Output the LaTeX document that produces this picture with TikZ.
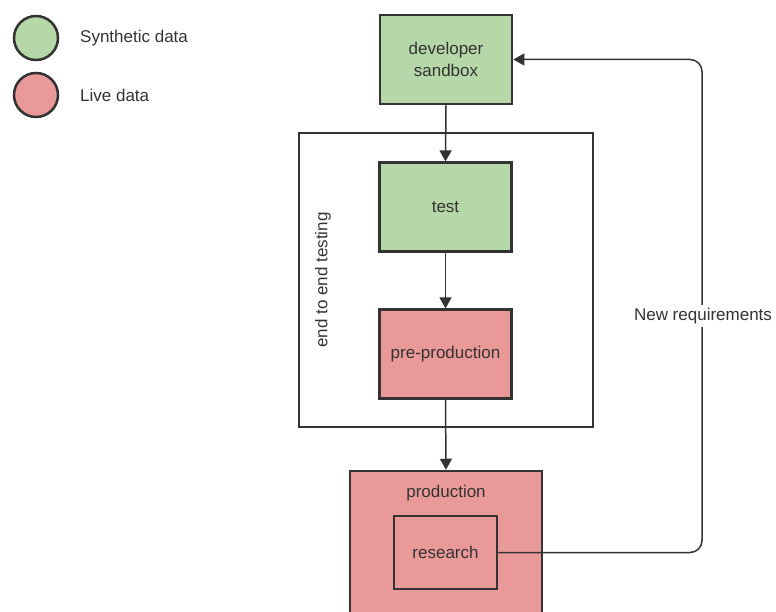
\documentclass[tikz,border=0pt]{standalone}
\usepackage{fontspec}
\setmainfont{Liberation Sans}
\usetikzlibrary{arrows.meta}
\definecolor{synth}{HTML}{B6D7A8}
\definecolor{live}{HTML}{EA9999}
\definecolor{ink}{HTML}{333333}
\tikzset{
  stage/.style={draw=ink, line width=2.2pt, minimum width=132pt, minimum height=89pt,
    inner sep=0pt, align=center, text=ink},
  synthbox/.style={stage, fill=synth},
  livebox/.style={stage, fill=live},
  legenddot/.style={circle, draw=ink, line width=2.5pt, minimum size=44pt, inner sep=0pt},
  legendtext/.style={anchor=west, text=ink, inner sep=0pt},
  flow/.style={draw=ink, line width=1.5pt, -{Triangle[width=12pt,length=11pt]}},
  txt/.style={text=ink, inner sep=0pt}
}
\begin{document}
\begin{tikzpicture}[x=1pt, y=-1pt, font=\fontsize{17}{20}\selectfont]
\useasboundingbox (0,0) rectangle (776,612);

% legend
\node[legenddot, fill=synth] (lgsynth) at (36,38) {};
\node[legenddot, fill=live] (lglive) at (36,95) {};
\node[legendtext] (lgsynthtxt) at (80,38) {Synthetic data};
\node[legendtext] (lglivetxt) at (80,95) {Live data};

% end to end testing frame
\node[draw=ink, line width=2.5pt, minimum width=294pt, minimum height=294pt, inner sep=0pt]
  (e2e) at (446,280) {};
\node[txt, rotate=90] (e2elabel) at (323,280) {end to end testing};

% stages
\node[synthbox, line width=2.6pt] (sandbox) at (446,59.5) {developer\\[2pt]sandbox};
\node[synthbox] (test) at (445.5,207) {test};
\node[livebox] (preprod) at (445.5,354) {pre-production};

% production with research inside
\node[draw=ink, line width=2.5pt, fill=live, minimum width=192pt, minimum height=190pt, inner sep=0pt]
  (prod) at (446,566) {};
\node[txt] (prodlabel) at (446,493) {production};
\node[draw=ink, line width=2.5pt, fill=live, minimum width=103pt, minimum height=73pt, inner sep=0pt, text=ink]
  (research) at (445.5,552.5) {research};

% flow
\draw[flow] (sandbox.south) -- (test.north);
\draw[flow] (test.south) -- (preprod.north);
\draw[flow] (preprod.south) -- (prod.north);

% feedback loop
\coordinate (loopbottom) at (702,552.5);
\coordinate (looptop) at (702,59.5);
\draw[flow, rounded corners=12pt] (research.east) -- (loopbottom) -- (looptop) -- (sandbox.east);
\node[txt, fill=white, inner sep=3pt] (newreq) at (703,316) {New requirements};
\end{tikzpicture}
\end{document}
